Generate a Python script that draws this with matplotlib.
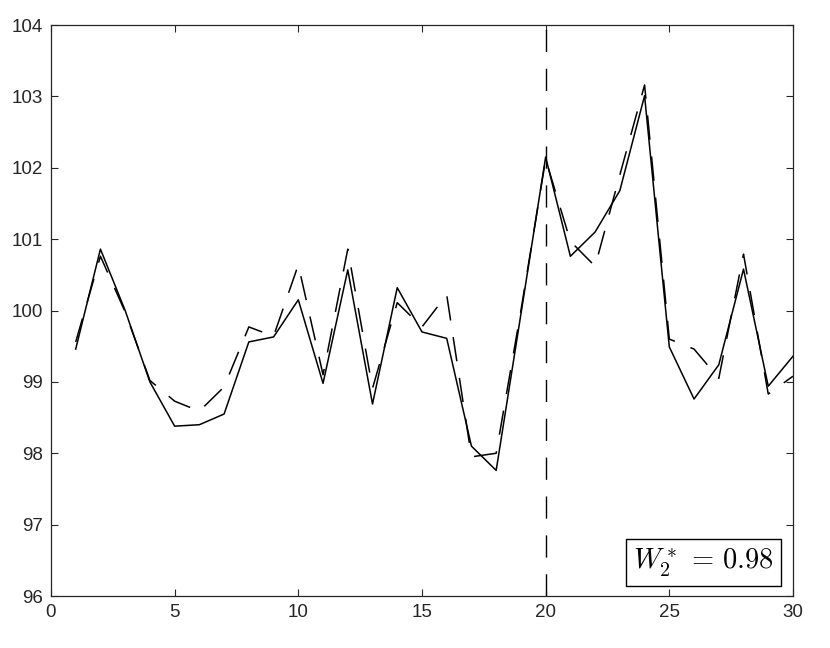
import matplotlib
matplotlib.use("Agg")
import matplotlib.pyplot as plt
import numpy as np

plt.rcParams['font.family'] = ['Liberation Sans', 'DejaVu Sans']
plt.rcParams['mathtext.fontset'] = 'cm'

# datos
t = np.arange(1, 31)
serie_real = [99.46, 100.86, 100.0, 99.0, 98.38, 98.40, 98.55, 99.56, 99.63, 100.15,
              98.98, 100.57, 98.69, 100.32, 99.70, 99.61, 98.10, 97.76, 99.95, 102.15,
              100.76, 101.10, 101.68, 103.01, 99.49, 98.76, 99.24, 100.58, 98.94, 99.36]
serie_pred = [99.56, 100.76, 99.98, 99.02, 98.73, 98.59, 98.93, 99.77, 99.64, 100.64,
              99.10, 100.86, 98.91, 100.11, 99.77, 100.22, 97.95, 98.00, 100.00, 102.12,
              100.97, 100.62, 101.90, 103.16, 99.60, 99.46, 99.05, 100.79, 98.83, 99.08]
corte = 20
w2 = 0.98

fig = plt.figure(figsize=(8.3, 6.48), dpi=100)
ax = fig.add_axes([0.0614, 0.0802, 0.894, 0.8812])

gris = '#262626'
ax.plot(t, serie_real, color='black', lw=1.1)
ax.plot(t, serie_pred, color='black', lw=1.1, dashes=(16, 11))
ax.axvline(corte, color='black', lw=1.0, dashes=(16, 12))

ax.set_xlim(0, 30)
ax.set_ylim(96, 104)
ax.set_xticks(np.arange(0, 31, 5))
ax.set_yticks(np.arange(96, 105, 1))
ax.tick_params(direction='in', top=True, right=True, length=5, width=0.8,
               labelsize=13.5, colors=gris, labelcolor=gris, pad=6)
for s in ax.spines.values():
    s.set_color(gris)
    s.set_linewidth(0.9)

ax.text(0.974, 0.030, r'$W_2^* \,=\, %.2f$' % w2, transform=ax.transAxes,
        ha='right', va='bottom', fontsize=20.5,
        bbox=dict(boxstyle='square,pad=0.25', fc='white', ec='black', lw=1.0))

fig.savefig('out.png', dpi=100)
